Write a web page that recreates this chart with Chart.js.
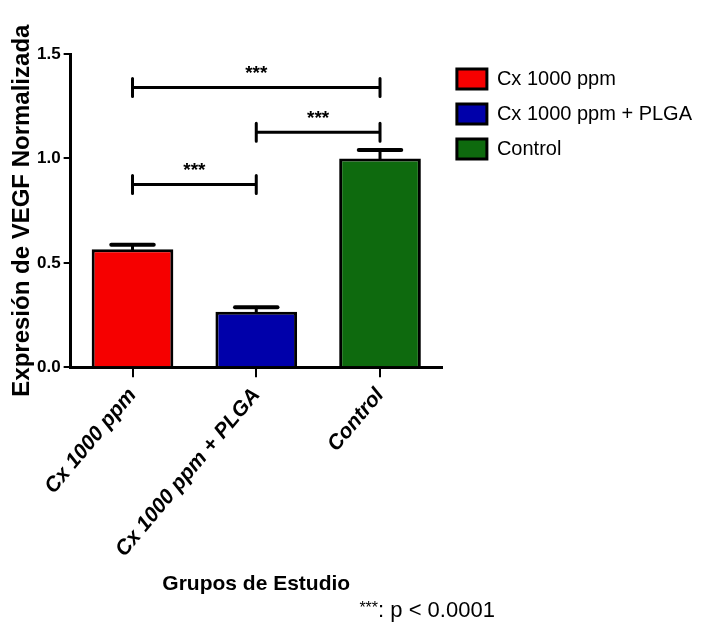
<!DOCTYPE html>
<html>
<head>
<meta charset="utf-8">
<script src="https://cdn.jsdelivr.net/npm/chart.js@4.4.1/dist/chart.umd.min.js"></script>
<style>
  html, body { margin: 0; padding: 0; background: #fff; }
  #wrap { width: 702px; height: 631px; }
</style>
</head>
<body>
<div id="wrap"><canvas id="barChart"></canvas></div>
<script>
// values
const groups = ['Cx 1000 ppm', 'Cx 1000 ppm + PLGA', 'Control'];
const means = [0.565, 0.266, 1.0];
const sem = [0.022, 0.022, 0.04];
const barColors = ['#f60000', '#0000aa', '#0e6a0e'];
const yTicks = [0, 0.5, 1.0, 1.5];

// significance brackets: from group, to group, height, label
const bracketFrom = [0, 1, 0];
const bracketTo = [2, 2, 1];
const bracketY = [1.34, 1.125, 0.875];
const bracketLabel = ['***', '***', '***'];

Chart.defaults.font.family = "'Liberation Sans', Arial, sans-serif";
Chart.defaults.color = '#000';

// one dataset per group so the legend gets three entries
let datasets = groups.map((g, i) => ({
    label: g,
    data: groups.map((_, j) => (j === i ? means[i] : null)),
    backgroundColor: barColors[i],
    borderColor: '#000',
    borderWidth: 3
}));

const extras = {
    id: 'extras',
    afterDatasetsDraw(chart) {
        const ctx = chart.ctx;
        const x = chart.scales.x, y = chart.scales.y;
        ctx.save();
        ctx.strokeStyle = '#000';
        ctx.lineCap = 'round';

        // error bars (upper only)
        ctx.lineWidth = 3;
        means.forEach((m, i) => {
            const bar = chart.getDatasetMeta(i).data[i];
            const px = x.getPixelForValue(i);
            const top = y.getPixelForValue(m);
            const cap = y.getPixelForValue(m + sem[i]);
            const half = bar.width * 0.26;
            ctx.beginPath();
            ctx.moveTo(px, top);
            ctx.lineTo(px, cap);
            ctx.stroke();
            ctx.lineWidth = 4;
            ctx.beginPath();
            ctx.moveTo(px - half, cap);
            ctx.lineTo(px + half, cap);
            ctx.stroke();
            ctx.lineWidth = 3;
        });

        // brackets
        ctx.lineWidth = 3;
        ctx.fillStyle = '#000';
        ctx.font = "bold 19px 'Liberation Sans', Arial, sans-serif";
        ctx.textAlign = 'center';
        ctx.textBaseline = 'middle';
        bracketY.forEach((v, k) => {
            const x1 = x.getPixelForValue(bracketFrom[k]);
            const x2 = x.getPixelForValue(bracketTo[k]);
            const py = y.getPixelForValue(v);
            ctx.beginPath();
            ctx.moveTo(x1, py - 9); ctx.lineTo(x1, py + 9);
            ctx.moveTo(x1, py); ctx.lineTo(x2, py);
            ctx.moveTo(x2, py - 9); ctx.lineTo(x2, py + 9);
            ctx.stroke();
            ctx.fillText(bracketLabel[k], (x1 + x2) / 2, py - 14);
        });

        // footnote
        const fx = chart.chartArea.right + 53;
        const fy = chart.height - 14;
        ctx.textAlign = 'right';
        ctx.textBaseline = 'alphabetic';
        ctx.font = "22px 'Liberation Sans', Arial, sans-serif";
        const rest = ': p < 0.0001';
        ctx.fillText(rest, fx, fy);
        const w = ctx.measureText(rest).width;
        ctx.font = "16px 'Liberation Sans', Arial, sans-serif";
        ctx.fillText('***', fx - w, fy - 4);
        ctx.restore();
    }
};

let barChart = new Chart(document.getElementById('barChart').getContext('2d'), {
    type: 'bar',
    data: { labels: groups, datasets: datasets },
    plugins: [extras],
    options: {
        responsive: true,
        maintainAspectRatio: false,
        animation: false,
        layout: { padding: { top: 54, left: 10, right: 0, bottom: 34 } },
        datasets: { bar: { grouped: false, categoryPercentage: 0.66, barPercentage: 1 } },
        plugins: {
            tooltip: { enabled: false },
            legend: {
                position: 'right',
                align: 'start',
                maxWidth: 270,
                labels: {
                    boxWidth: 30,
                    boxHeight: 20,
                    padding: 15,
                    font: { size: 20 }
                }
            }
        },
        scales: {
            x: {
                grid: { display: true, offset: false, drawOnChartArea: false, drawTicks: true, tickLength: 10, color: '#000', lineWidth: 2 },
                border: { display: true, color: '#000', width: 3 },
                ticks: { minRotation: 50, maxRotation: 50, padding: 6, font: { size: 21, weight: 'bold', style: 'italic' } },
                title: { display: true, text: 'Grupos de Estudio', font: { size: 21, weight: 'bold' }, padding: { top: 4, bottom: 0 } }
            },
            y: {
                min: 0,
                max: 1.5,
                afterBuildTicks: (s) => { s.ticks = yTicks.map(v => ({ value: v })); },
                grid: { display: true, drawOnChartArea: false, drawTicks: true, tickLength: 7, color: '#000', lineWidth: 2 },
                border: { display: true, color: '#000', width: 3 },
                ticks: { padding: 3, font: { size: 17, weight: 'bold' }, callback: (v) => v.toFixed(1) },
                title: { display: true, text: 'Expresión de VEGF Normalizada', font: { size: 24, weight: 'bold', lineHeight: 1 }, padding: { top: 0, bottom: 0 } }
            }
        }
    }
});
</script>
</body>
</html>
